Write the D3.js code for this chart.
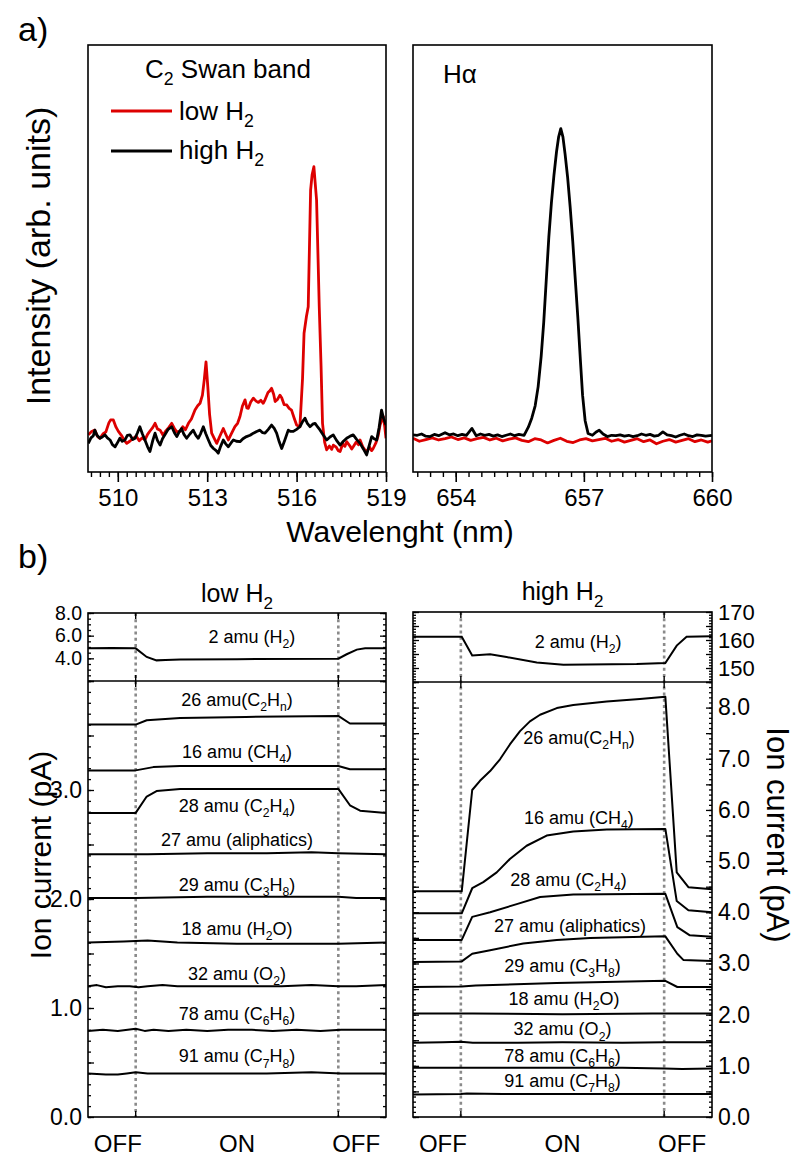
<!DOCTYPE html>
<html><head><meta charset="utf-8">
<script src="https://cdn.jsdelivr.net/npm/d3@7"></script>
<style>
body{margin:0;background:#fff}
svg{display:block}
text{font-family:"Liberation Sans",Arial,sans-serif;fill:#000}
</style>
</head><body>
<script>
// ---------------- DATA ----------------
// a) C2 Swan band spectra (wavelength nm, intensity arb.)
const swanLow = [[509.01,8.7],[509.12,9.5],[509.23,9.8],[509.32,8.3],[509.40,7.9],[509.50,8.9],[509.60,9.4],[509.70,11.5],[509.76,12.2],[509.85,12.2],[509.94,10.5],[510.02,9.5],[510.12,8.6],[510.20,7.6],[510.30,6.7],[510.40,7.2],[510.52,7.9],[510.62,8.4],[510.72,7.3],[510.82,8.0],[510.91,7.5],[511.00,8.8],[511.08,9.6],[511.17,10.4],[511.25,11.4],[511.33,10.1],[511.42,9.8],[511.52,8.6],[511.62,9.7],[511.72,10.5],[511.81,11.4],[511.90,10.2],[511.98,9.4],[512.09,9.5],[512.18,10.6],[512.27,9.9],[512.37,11.4],[512.47,12.4],[512.59,14.5],[512.68,15.5],[512.76,16.1],[512.84,18.0],[512.90,21.5],[512.96,25.8],[513.02,20.0],[513.08,13.5],[513.15,9.1],[513.24,7.8],[513.32,6.7],[513.42,8.3],[513.54,10.2],[513.62,8.9],[513.71,7.5],[513.80,8.8],[513.93,10.6],[514.02,11.4],[514.10,13.0],[514.18,15.4],[514.27,16.9],[514.33,15.0],[514.38,14.9],[514.46,16.4],[514.55,17.3],[514.64,16.6],[514.72,16.3],[514.80,16.8],[514.88,16.1],[514.94,16.9],[515.04,18.6],[515.10,19.0],[515.16,19.6],[515.23,18.2],[515.28,16.5],[515.36,17.0],[515.44,18.0],[515.50,17.4],[515.58,15.8],[515.67,15.7],[515.75,14.9],[515.83,14.5],[515.92,12.6],[516.00,11.0],[516.11,10.6],[516.20,22.0],[516.25,32.5],[516.33,36.4],[516.39,38.7],[516.47,66.0],[516.52,69.6],[516.58,71.5],[516.62,68.0],[516.67,63.7],[516.72,50.0],[516.76,38.7],[516.82,25.0],[516.87,11.4],[516.94,7.0],[517.01,5.2],[517.10,6.1],[517.18,5.3],[517.23,6.3],[517.33,5.8],[517.40,5.0],[517.46,4.8],[517.55,6.6],[517.62,6.0],[517.68,7.1],[517.78,6.2],[517.85,5.4],[517.90,5.9],[518.00,7.0],[518.08,6.4],[518.13,7.5],[518.22,5.9],[518.30,5.1],[518.35,4.8],[518.45,5.8],[518.52,5.0],[518.57,5.5],[518.66,6.8],[518.74,8.6],[518.80,11.0],[518.85,12.0],[518.91,13.0],[518.96,10.5],[519.00,7.9]];
const swanHigh = [[509.01,6.7],[509.10,8.0],[509.18,8.5],[509.23,9.8],[509.30,8.6],[509.40,7.9],[509.48,8.2],[509.57,8.7],[509.65,8.0],[509.74,7.5],[509.82,6.4],[509.91,5.9],[510.00,7.0],[510.07,7.9],[510.15,7.2],[510.24,7.5],[510.32,8.6],[510.41,8.7],[510.50,7.6],[510.58,7.9],[510.66,9.2],[510.74,10.6],[510.82,9.0],[510.91,7.5],[511.00,5.9],[511.08,4.8],[511.17,7.3],[511.25,9.1],[511.33,7.4],[511.42,6.3],[511.50,7.8],[511.58,8.7],[511.68,9.9],[511.81,10.6],[511.90,9.2],[511.98,8.3],[512.06,9.4],[512.14,10.2],[512.22,8.8],[512.31,7.9],[512.42,8.9],[512.53,9.8],[512.62,8.6],[512.70,7.9],[512.78,9.0],[512.87,10.6],[512.95,9.0],[513.04,7.5],[513.12,6.2],[513.21,5.5],[513.30,5.0],[513.37,4.4],[513.45,6.0],[513.54,7.5],[513.62,6.6],[513.71,5.9],[513.80,6.8],[513.88,7.5],[513.98,7.2],[514.10,7.1],[514.20,7.8],[514.32,8.3],[514.44,8.6],[514.55,9.1],[514.66,9.5],[514.77,9.8],[514.86,9.2],[514.94,9.1],[515.05,10.0],[515.16,11.0],[515.25,10.2],[515.33,9.1],[515.42,7.0],[515.50,5.5],[515.60,7.4],[515.72,9.8],[515.80,9.5],[515.89,9.5],[516.00,10.0],[516.11,10.6],[516.20,11.8],[516.28,12.6],[516.36,11.4],[516.45,10.6],[516.54,11.2],[516.62,11.4],[516.70,10.6],[516.79,9.8],[516.90,8.6],[517.01,7.5],[517.12,8.2],[517.23,8.7],[517.34,7.4],[517.46,6.3],[517.57,7.2],[517.68,7.9],[517.80,8.4],[517.90,8.7],[518.02,7.6],[518.13,6.7],[518.24,5.4],[518.35,4.0],[518.44,6.3],[518.52,8.3],[518.60,7.8],[518.69,7.5],[518.77,10.5],[518.85,14.5],[518.92,12.5],[519.00,11.0]];
// a) H-alpha spectra
const haLow = [[653.00,7.9],[653.15,7.2],[653.30,7.6],[653.45,8.0],[653.60,7.5],[653.75,7.8],[653.90,8.2],[654.05,7.6],[654.20,8.0],[654.35,7.4],[654.50,7.8],[654.65,8.1],[654.80,7.5],[654.95,7.9],[655.10,7.3],[655.25,7.7],[655.40,8.0],[655.55,7.4],[655.70,7.1],[655.85,7.8],[656.00,7.5],[656.15,6.8],[656.30,7.4],[656.45,7.9],[656.60,7.2],[656.75,6.9],[656.90,7.5],[657.05,7.8],[657.20,7.3],[657.35,7.6],[657.50,7.9],[657.65,7.2],[657.80,7.6],[657.95,7.0],[658.10,7.4],[658.25,7.8],[658.40,7.1],[658.55,7.5],[658.70,6.6],[658.85,7.2],[659.00,7.6],[659.15,7.0],[659.30,7.4],[659.45,7.8],[659.60,7.1],[659.75,7.5],[659.90,7.0],[660.00,7.3]];
const haHigh = [[653.00,8.7],[653.10,8.6],[653.20,8.9],[653.30,8.4],[653.40,8.3],[653.50,8.8],[653.60,8.5],[653.75,9.2],[653.85,8.7],[653.95,8.9],[654.05,8.5],[654.15,8.8],[654.25,8.6],[654.38,10.2],[654.48,8.5],[654.58,8.9],[654.68,8.6],[654.78,8.8],[654.88,8.4],[654.98,8.7],[655.08,8.3],[655.18,8.6],[655.28,8.9],[655.38,8.5],[655.48,8.8],[655.60,8.6],[655.70,10.5],[655.78,12.6],[655.86,15.5],[655.93,20.0],[656.00,27.0],[656.06,35.0],[656.12,45.0],[656.18,55.0],[656.24,63.0],[656.30,69.5],[656.36,75.0],[656.41,78.5],[656.46,80.4],[656.51,78.5],[656.56,74.5],[656.62,69.0],[656.68,62.0],[656.74,54.0],[656.80,45.0],[656.86,36.0],[656.92,26.0],[656.97,18.0],[657.03,12.0],[657.10,9.0],[657.20,8.6],[657.28,9.3],[657.36,9.8],[657.45,8.9],[657.55,8.3],[657.65,8.6],[657.75,8.5],[657.85,8.7],[657.95,8.4],[658.05,8.6],[658.15,8.3],[658.25,8.5],[658.35,8.9],[658.45,8.6],[658.55,8.8],[658.65,8.4],[658.75,8.6],[658.85,9.4],[658.95,8.7],[659.05,8.5],[659.15,8.2],[659.25,8.6],[659.35,8.9],[659.45,8.5],[659.55,8.3],[659.65,8.7],[659.75,8.6],[659.85,8.4],[660.00,8.6]];
const swanTicks = [510,513,516,519];
const haTicks = [654,657,660];

// b) ion currents vs time (t in % of run, value in pA)
const plasmaSwitch = [16,84];
const phaseLabels = ["OFF","ON","OFF"];
const phaseT = [10,50,90];

const lowH2 = [[0,4.9],[8,4.92],[16,4.88],[19.7,4.12],[23,3.82],[26,3.85],[31,3.9],[50,3.93],[84,3.97],[86.8,4.36],[90.2,4.77],[93,4.88],[100,4.9]];
const low26 = [[0,3.60],[16,3.60],[19.7,3.64],[30.9,3.66],[53,3.67],[84,3.68],[87.9,3.61],[100,3.61]];
const low16 = [[0,3.18],[16,3.18],[21.9,3.21],[30.9,3.22],[84,3.22],[87.9,3.19],[100,3.19]];
const low28 = [[0,2.79],[16,2.79],[19.7,2.94],[23,2.99],[30.9,3.01],[84,3.01],[87.9,2.86],[91.3,2.81],[100,2.79]];
const low27 = [[0,2.41],[20,2.41],[40,2.42],[60,2.42],[75,2.43],[84,2.42],[100,2.41]];
const low29 = [[0,2.01],[16,2.01],[40,2.02],[70,2.02],[84,2.02],[90,2.01],[100,2.01]];
const low18 = [[0,1.60],[12,1.61],[20,1.62],[30,1.60],[50,1.59],[84,1.59],[100,1.60]];
const low32 = [[0,1.20],[3,1.21],[6,1.19],[10,1.20],[14,1.20],[17,1.19],[20,1.20],[25,1.21],[30,1.20],[35,1.20],[45,1.20],[55,1.20],[65,1.20],[75,1.21],[84,1.20],[90,1.20],[100,1.21]];
const low78 = [[0,0.79],[5,0.80],[10,0.79],[16,0.81],[19,0.79],[22,0.80],[27,0.79],[33,0.80],[40,0.79],[47,0.80],[55,0.80],[62,0.79],[70,0.80],[78,0.79],[85,0.80],[92,0.80],[100,0.80]];
const low91 = [[0,0.40],[6,0.39],[10,0.39],[13,0.40],[16,0.41],[20,0.40],[30,0.40],[45,0.40],[60,0.40],[75,0.41],[85,0.40],[100,0.40]];

const highH2 = [[0,161.2],[16.3,161.2],[19.8,154.5],[25.8,154.9],[31.3,153.9],[41.4,152.0],[50.3,151.2],[74.8,151.4],[84.4,151.8],[88.2,158.0],[91.5,161.2],[100,161.3]];
const high26 = [[0,4.41],[16.3,4.41],[19.8,6.39],[22.4,6.57],[25.8,6.76],[29.1,6.99],[32.4,7.28],[35.8,7.54],[39.1,7.73],[42.5,7.86],[48.1,7.99],[53.6,8.05],[64.8,8.12],[75.9,8.17],[84.4,8.21],[88.2,4.78],[92.1,4.49],[100,4.45]];
const high16 = [[0,3.98],[16.3,3.98],[19.8,4.47],[23.5,4.59],[28,4.78],[32.4,5.04],[38,5.30],[44.7,5.50],[53.6,5.58],[64.8,5.62],[84.4,5.63],[88.2,4.22],[92.1,4.04],[100,4.0]];
const high28 = [[0,3.46],[16.3,3.46],[19.8,3.91],[25.8,4.0],[34.7,4.16],[42.5,4.30],[53.6,4.35],[84.4,4.36],[88.4,3.71],[92.6,3.55],[100,3.52]];
const high27 = [[0,3.03],[16.3,3.04],[19.8,3.19],[25.8,3.26],[36.9,3.39],[48.1,3.46],[59.2,3.50],[84.4,3.53],[88.4,3.19],[90.4,3.07],[100,3.05]];
const high29 = [[0,2.54],[16.3,2.55],[21,2.57],[48,2.62],[84.4,2.66],[88.4,2.54],[100,2.54]];
const high18 = [[0,2.02],[20,2.02],[50,2.01],[80,2.02],[100,2.02]];
const high32 = [[0,1.45],[10,1.46],[16,1.47],[20,1.45],[35,1.45],[50,1.46],[70,1.45],[84,1.46],[100,1.46]];
const high78 = [[0,0.96],[16,0.96],[40,0.96],[70,0.96],[84,0.95],[90,0.94],[100,0.95]];
const high91 = [[0,0.44],[16,0.45],[18,0.46],[30,0.45],[60,0.45],[84,0.45],[100,0.45]];

const speciesNames = ["26 amu(C_2H_n)","16 amu (CH_4)","28 amu (C_2H_4)","27 amu (aliphatics)","29 amu (C_3H_8)","18 amu (H_2O)","32 amu (O_2)","78 amu (C_6H_6)","91 amu (C_7H_8)"];
const h2Name = "2 amu (H_2)";
const lowSeries = [low26,low16,low28,low27,low29,low18,low32,low78,low91];
const highSeries = [high26,high16,high28,high27,high29,high18,high32,high78,high91];
const lowLabelT = [50,50,50,50,50,50,50,50,50];
const lowLabelV = [3.83,3.35,2.86,2.55,2.13,1.73,1.32,0.95,0.56];
const highLabelT = [55.5,55.5,52,52.5,50,50.5,50,50,50];
const highLabelV = [7.41,5.85,4.65,3.74,2.96,2.32,1.72,1.21,0.71];

// ---------------- DRAW ----------------
const W=800,H=1159;
const svg=d3.select('body').append('svg').attr('width',W).attr('height',H);

function rich(sel, str, size){
  const parts=[]; let buf='';
  for(let i=0;i<str.length;i++){
    if(str[i]==='_' && i+1<str.length){ if(buf){parts.push({t:buf,s:false});buf='';} parts.push({t:str[i+1],s:true}); i++; }
    else buf+=str[i];
  }
  if(buf) parts.push({t:buf,s:false});
  let down=false; const sh=0.28*size;
  parts.forEach(p=>{
    const ts=sel.append('tspan').text(p.t);
    if(p.s){ ts.attr('font-size',(0.68*size).toFixed(1)+'px'); if(!down){ts.attr('dy',sh);down=true;} }
    else { ts.attr('font-size',size+'px'); if(down){ts.attr('dy',-sh);down=false;} }
  });
  return sel;
}
function txt(x,y,str,size,anchor){
  const t=svg.append('text').attr('x',x).attr('y',y).attr('text-anchor',anchor||'start').attr('font-size',size+'px');
  rich(t,str,size); return t;
}

// ---- panel a ----
const yA = d3.scaleLinear().domain([0,100]).range([472,45]);
const xSw = d3.scaleLinear().domain([509,519]).range([88,386]);
const xHa = d3.scaleLinear().domain([653,660]).range([413,712]);
const defs=svg.append('defs');
function clip(id,x0,y0,x1,y1){defs.append('clipPath').attr('id',id).append('rect').attr('x',x0).attr('y',y0).attr('width',x1-x0).attr('height',y1-y0);}
clip('cSw',88,45,386,472); clip('cHa',413,45,712,472);

function specPanel(x, data, id, ticks, minorStart){
  const line=d3.line().x(d=>x(d[0])).y(d=>yA(d[1]));
  const g=svg.append('g').attr('clip-path',`url(#${id})`);
  g.append('path').datum(data[0]).attr('d',line).attr('fill','none').attr('stroke','#dd0000').attr('stroke-width',2.8).attr('stroke-linejoin','round');
  g.append('path').datum(data[1]).attr('d',line).attr('fill','none').attr('stroke','#000').attr('stroke-width',2.8).attr('stroke-linejoin','round');
  const [a,b]=x.range();
  svg.append('rect').attr('x',a).attr('y',45).attr('width',b-a).attr('height',472-45).attr('fill','none').attr('stroke','#000').attr('stroke-width',1.6);
  const minor=d3.range(minorStart, x.domain()[1]+0.001, 0.3);
  const gm=svg.append('g').attr('transform','translate(0,472)').call(d3.axisBottom(x).tickValues(minor).tickSize(5).tickFormat(''));
  gm.select('.domain').remove(); gm.selectAll('line').attr('stroke-width',1.4);
  const gM=svg.append('g').attr('transform','translate(0,472)').call(d3.axisBottom(x).tickValues(ticks).tickSize(10).tickPadding(7).tickFormat(d3.format('d')));
  gM.select('.domain').remove(); gM.selectAll('line').attr('stroke-width',1.6);
  gM.selectAll('text').attr('font-size','24px').attr('font-family','"Liberation Sans",Arial,sans-serif');
}
specPanel(xSw,[swanLow,swanHigh],'cSw',swanTicks,509.1);
specPanel(xHa,[haLow,haHigh],'cHa',haTicks,653.1);

txt(145,78,"C_2 Swan band",26);
svg.append('line').attr('x1',111).attr('x2',172).attr('y1',111).attr('y2',111).attr('stroke','#dd0000').attr('stroke-width',2.8);
txt(179,120,"low H_2",26);
svg.append('line').attr('x1',111).attr('x2',172).attr('y1',151).attr('y2',151).attr('stroke','#000').attr('stroke-width',2.8);
txt(179,159,"high H_2",26);
txt(443,83,"Hα",26);
txt(400,542,"Wavelenght (nm)",30,'middle');
svg.append('text').attr('transform','translate(38,256) rotate(-90)').attr('text-anchor','middle').attr('dy','0.35em').attr('font-size','34px').text('Intensity (arb. units)');
txt(18,41,"a)",34);
txt(18,568,"b)",34);

// ---- panel b ----
function ionPanel(cfg){
  const {x0,x1,top,sep,bot,stripDom,mainDom,strip,series,labT,labV,h2LabT,h2LabV,labelSide,stripMinor,stripMajor,stripLabels,stripFmt,stripSize,mainMinor,mainMajor,mainLabels,mainFmt,title,titleY}=cfg;
  const x=d3.scaleLinear().domain([0,100]).range([x0,x1]);
  const yS=d3.scaleLinear().domain(stripDom).range([sep,top]);
  const yM=d3.scaleLinear().domain(mainDom).range([bot,sep]);
  const line=(ys)=>d3.line().x(d=>x(d[0])).y(d=>ys(d[1]));
  // dashed switch lines
  svg.append('g').selectAll('line').data(plasmaSwitch).join('line')
    .attr('x1',d=>x(d)).attr('x2',d=>x(d)).attr('y1',top).attr('y2',bot)
    .attr('stroke','#8a8a8a').attr('stroke-width',2.6).attr('stroke-dasharray','3,3.2');
  // data
  svg.append('path').datum(strip).attr('d',line(yS)).attr('fill','none').attr('stroke','#000').attr('stroke-width',2);
  svg.append('g').selectAll('path').data(series).join('path').attr('d',d=>line(yM)(d)).attr('fill','none').attr('stroke','#000').attr('stroke-width',2).attr('stroke-linejoin','round');
  // frames
  svg.append('rect').attr('x',x0).attr('y',top).attr('width',x1-x0).attr('height',bot-top).attr('fill','none').attr('stroke','#000').attr('stroke-width',1.6);
  svg.append('line').attr('x1',x0).attr('x2',x1).attr('y1',sep).attr('y2',sep).attr('stroke','#000').attr('stroke-width',1.6);
  // y ticks (inward both sides)
  function yt(scale,vals,len,side,labelVals,fmt,fs){
    const xpos = side==='left'?x0:x1;
    const ax=(side==='left'?d3.axisLeft(scale):d3.axisRight(scale)).tickValues(vals).tickSize(-len).tickFormat('');
    const g=svg.append('g').attr('transform',`translate(${xpos},0)`).call(ax);
    g.select('.domain').remove(); g.selectAll('line').attr('stroke-width',1.3);
    if(labelVals){
      const al=(side==='left'?d3.axisLeft(scale):d3.axisRight(scale)).tickValues(labelVals).tickSize(0).tickPadding(6).tickFormat(fmt);
      const gl=svg.append('g').attr('transform',`translate(${xpos},0)`).call(al);
      gl.select('.domain').remove(); gl.selectAll('line').remove();
      gl.selectAll('text').attr('font-size',fs+'px').attr('font-family','"Liberation Sans",Arial,sans-serif');
    }
  }
  ['left','right'].forEach(s=>{
    const lab = s===labelSide;
    yt(yS,stripMinor,3,s,null);
    yt(yS,stripMajor,6,s,lab?stripLabels:null,stripFmt,stripSize);
    yt(yM,mainMinor,3,s,null);
    yt(yM,mainMajor,6,s,lab?mainLabels:null,mainFmt,23);
  });
  // x ticks at switch times (inward)
  [[top,6],[sep,-6],[sep,6],[bot,-6]].forEach(([yy,len])=>{
    svg.append('g').selectAll('line').data(plasmaSwitch).join('line')
      .attr('x1',d=>x(d)).attr('x2',d=>x(d)).attr('y1',yy).attr('y2',yy+len).attr('stroke','#000').attr('stroke-width',1.4);
  });
  // phase labels
  svg.append('g').selectAll('text').data(phaseLabels).join('text')
    .attr('x',(d,i)=>x(phaseT[i])).attr('y',1152).attr('text-anchor','middle').attr('font-size','24px').text(d=>d);
  // species labels
  speciesNames.forEach((n,i)=>{
    const t=svg.append('text').attr('x',x(labT[i])).attr('y',yM(labV[i])+6.5).attr('text-anchor','middle').attr('font-size','18px');
    rich(t,n,18);
  });
  const t2=svg.append('text').attr('x',x(h2LabT)).attr('y',yS(h2LabV)+6.5).attr('text-anchor','middle').attr('font-size','18px');
  rich(t2,h2Name,18);
  txt((x0+x1)/2,titleY,title,25,'middle');
}
ionPanel({x0:88,x1:386,top:613,sep:681,bot:1117,stripDom:[2,8],mainDom:[0,4],strip:lowH2,series:lowSeries,
  labT:lowLabelT,labV:lowLabelV,h2LabT:55,h2LabV:5.96,labelSide:'left',
  stripMinor:d3.range(2,8.01,0.5),stripMajor:[2,4,6,8],stripLabels:[4,6,8],stripFmt:d3.format('.1f'),stripSize:19.5,
  mainMinor:d3.range(0,4.001,0.1),mainMajor:d3.range(0,4.01,0.5),mainLabels:[0,1,2,3],mainFmt:d3.format('.1f'),
  title:"low H_2",titleY:602});
ionPanel({x0:413,x1:712,top:612,sep:682,bot:1117,stripDom:[145,170],mainDom:[0,8.5],strip:highH2,series:highSeries,
  labT:highLabelT,labV:highLabelV,h2LabT:55.2,h2LabV:159.6,labelSide:'right',
  stripMinor:d3.range(145,170.01,1),stripMajor:[145,150,155,160,165,170],stripLabels:[150,160,170],stripFmt:d3.format('d'),stripSize:22,
  mainMinor:d3.range(0,8.501,0.1),mainMajor:d3.range(0,8.6,0.5),mainLabels:d3.range(0,9,1),mainFmt:d3.format('.1f'),
  title:"high H_2",titleY:600});

svg.append('text').attr('transform','translate(40,855) rotate(-90)').attr('text-anchor','middle').attr('dy','0.35em').attr('font-size','30px').text('Ion current (pA)');
svg.append('text').attr('transform','translate(778,835) rotate(90)').attr('text-anchor','middle').attr('dy','0.35em').attr('font-size','31px').text('Ion current (pA)');
</script>
</body></html>
